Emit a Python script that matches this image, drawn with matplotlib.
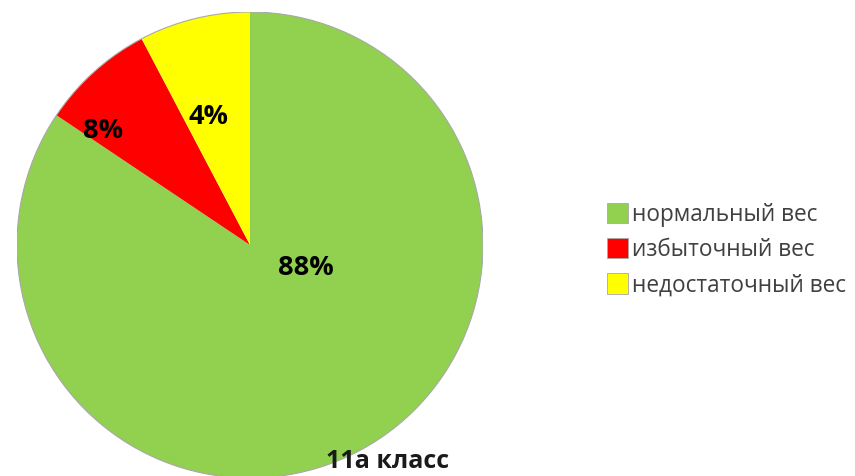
import matplotlib.pyplot as plt
from matplotlib.patches import Circle

categories = ["нормальный вес", "избыточный вес", "недостаточный вес"]
values = [84.4, 7.9, 7.7]
pct_labels = ["88%", "8%", "4%"]
colors = ["#92D050", "#FF0000", "#FFFF00"]
title = "11а класс"

fig = plt.figure(figsize=(8.55, 4.76), dpi=100)
# square axes box in pixels: 466 x 466, pie center at (250, 245)
ax = fig.add_axes([17 / 855, (476 - 478) / 476, 466 / 855, 466 / 476])

wedges, _ = ax.pie(values, colors=colors, startangle=90, counterclock=False,
                   radius=1, center=(0, 0), frame=True,
                   wedgeprops=dict(linewidth=0))
ax.set_xlim(-1, 1)
ax.set_ylim(-1, 1)
ax.axis("off")
ax.add_patch(Circle((0, 0), 1, fill=False, edgecolor="#a8a8a8", lw=0.8))

label_pos = [(0.24, -0.10), (-0.63, 0.49), (-0.18, 0.55)]
for txt, (x, y) in zip(pct_labels, label_pos):
    ax.text(x, y, txt, ha="center", va="center", fontsize=19.5,
            fontweight="bold", family="Open Sans", color="black")

fig.text(388 / 855, 1 - 461 / 476, title, ha="center", va="center",
         fontsize=18, fontweight="bold", family="Open Sans", color="#1a1a1a")

leg = fig.legend(wedges, categories, loc="center left",
                 bbox_to_anchor=(600 / 855, 1 - 250 / 476), frameon=False,
                 handlelength=0.95, handleheight=1.0, handletextpad=0.15,
                 labelspacing=0.5, borderaxespad=0, borderpad=0.3,
                 prop={"family": "Open Sans", "size": 16.3})
for t in leg.get_texts():
    t.set_color("#404040")
for h in leg.legend_handles:
    h.set_edgecolor("#a8a8a8")
    h.set_linewidth(0.6)

fig.savefig("out.png", dpi=100)
